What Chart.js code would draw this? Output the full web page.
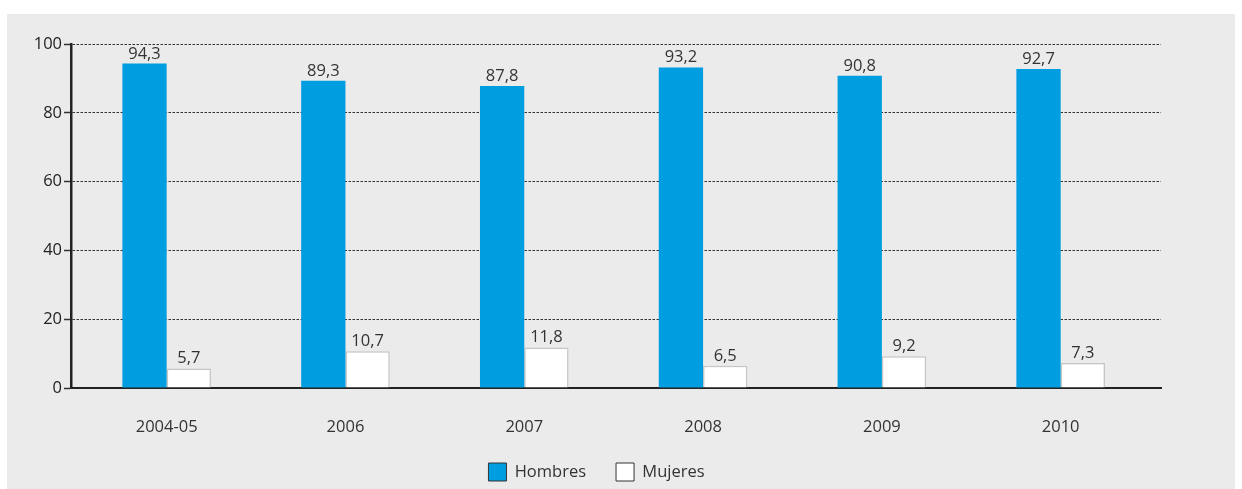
<!DOCTYPE html>
<html>
<head>
<meta charset="utf-8">
<script src="https://cdn.jsdelivr.net/npm/chart.js@4/dist/chart.umd.min.js"></script>
<style>
  html, body { margin: 0; padding: 0; background: #ffffff; }
  #panel { position: absolute; left: 7px; top: 14px; width: 1228px; height: 475px; background: #ebebeb; }
  #wrap { position: absolute; left: 0; top: 0; width: 1242px; height: 489px; }
</style>
</head>
<body>
<div id="panel"></div>
<div id="wrap"><canvas id="c" width="1242" height="489"></canvas></div>
<script>
// Participación por sexo (%), por año
const categories = ['2004-05', '2006', '2007', '2008', '2009', '2010'];
const hombres = [94.3, 89.3, 87.8, 93.2, 90.8, 92.7];
const mujeres = [5.7, 10.7, 11.8, 6.5, 9.2, 7.3];
const yTicks = [0, 20, 40, 60, 80, 100];

const FONT = '"Open Sans", "Noto Sans", sans-serif';
const FONT_SIZE = 16.5;

// Writes each bar's value above it, with a decimal comma
const valueLabels = {
  id: 'valueLabels',
  afterDatasetsDraw(chart) {
    const ctx = chart.ctx;
    ctx.save();
    ctx.font = FONT_SIZE + 'px ' + FONT;
    ctx.fillStyle = '#333333';
    ctx.textAlign = 'center';
    ctx.textBaseline = 'alphabetic';
    chart.data.datasets.forEach((ds, i) => {
      chart.getDatasetMeta(i).data.forEach((bar, j) => {
        const txt = ds.data[j].toFixed(1).replace('.', ',');
        ctx.fillText(txt, bar.x, bar.y - 5);
      });
    });
    ctx.restore();
  }
};

new Chart(document.getElementById('c'), {
  type: 'bar',
  data: {
    // category positions on the numeric x axis: 0..n-1
    labels: categories.map((_, i) => i),
    datasets: [
      {
        label: 'Hombres',
        data: hombres,
        backgroundColor: '#009ee0',
        borderWidth: 0
      },
      {
        label: 'Mujeres',
        data: mujeres,
        backgroundColor: '#ffffff',
        borderColor: '#c6c6c6',
        borderWidth: 1.5
      }
    ]
  },
  options: {
    responsive: false,
    animation: false,
    layout: { padding: { left: 32, right: 81, top: 44, bottom: -2 } },
    datasets: { bar: { barPercentage: 1.0, categoryPercentage: 0.4955 } },
    plugins: {
      tooltip: { enabled: false },
      legend: {
        position: 'bottom',
        labels: {
          font: { family: FONT, size: FONT_SIZE },
          color: '#333333',
          boxWidth: 18,
          boxHeight: 18,
          padding: 30,
          generateLabels(chart) {
            return chart.data.datasets.map((ds, i) => ({
              text: ds.label,
              fillStyle: ds.backgroundColor,
              strokeStyle: '#333333',
              lineWidth: 1,
              hidden: false,
              datasetIndex: i,
              fontColor: '#333333'
            }));
          }
        }
      }
    },
    scales: {
      x: {
        type: 'linear',
        offset: false,
        min: -0.535,
        max: 5.561,
        afterBuildTicks(s) { s.ticks = categories.map((_, i) => ({ value: i })); },
        grid: { display: false, drawTicks: false, offset: false },
        border: { display: true, color: '#222222', width: 2 },
        ticks: {
          font: { family: FONT, size: FONT_SIZE },
          color: '#333333',
          padding: 29,
          callback: (v) => categories[v]
        },
        afterFit(s) { s.height = 45; }
      },
      y: {
        min: 0,
        max: 100,
        afterBuildTicks(s) { s.ticks = yTicks.map(v => ({ value: v })); },
        grid: {
          color: '#333333',
          lineWidth: 1,
          drawTicks: true,
          tickLength: 7,
          tickColor: '#333333',
          tickBorderDash: [],
          tickWidth: 1.5
        },
        border: { display: true, color: '#222222', width: 2.5, dash: [2.5, 1.5] },
        ticks: {
          font: { family: FONT, size: FONT_SIZE },
          color: '#222222',
          padding: 2
        },
        afterFit(s) { s.width = 39; }
      }
    }
  },
  plugins: [valueLabels]
});
</script>
</body>
</html>
